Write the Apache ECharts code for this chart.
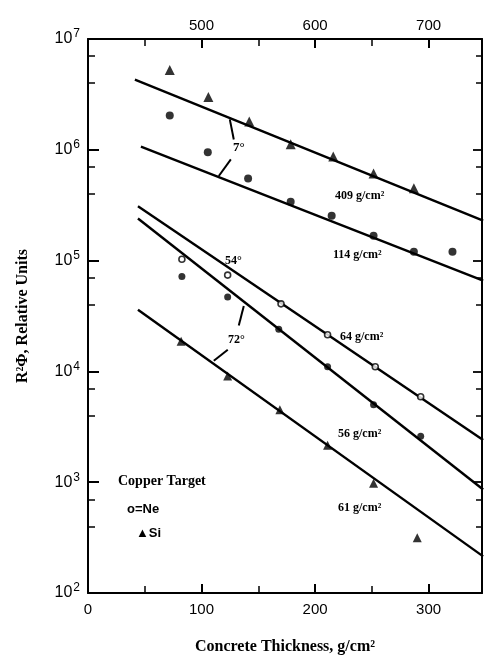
<!DOCTYPE html>
<html><head><meta charset="utf-8">
<script src="https://cdn.jsdelivr.net/npm/echarts@6/dist/echarts.min.js"></script>
<style>html,body{margin:0;padding:0;background:#fff}#c{width:489px;height:660px}</style>
</head><body><div id="c"></div>
<script>
// Measured points [thickness g/cm^2, R^2 Phi]
var si409 = [[72,5.25e6],[106,3.0e6],[142,1.8e6],[178.5,1.12e6],[216,8.7e5],[251.5,6.1e5],[287,4.5e5]];
var ne114 = [[72,2.04e6],[105.5,9.5e5],[141,5.5e5],[178.5,3.4e5],[214.6,2.54e5],[251.5,1.68e5],[287,1.2e5],[321,1.2e5]];
var ne64  = [[82.7,1.03e5],[123,7.4e4],[170,4.07e4],[211,2.14e4],[253,1.1e4],[293,5.9e3]];
var ne56  = [[82.7,7.2e4],[123,4.7e4],[168,2.4e4],[211,1.1e4],[251.5,5.0e3],[293,2.6e3]];
var si61  = [[82,1.87e4],[123,9.1e3],[169,4.5e3],[211,2.16e3],[251.5,980],[290,316]];
// Fitted lines
var fit409 = [[41.3,4.3e6],[348,2.3e5]];
var fit114 = [[46.6,1.07e6],[348,6.6e4]];
var fit64  = [[44,3.1e5],[348,2.4e3]];
var fit56  = [[44,2.4e5],[348,860]];
var fit61  = [[44,3.6e4],[348,214]];
// Angle indicator strokes
var ang7a = [[124.9,1.88e6],[128.4,1.24e6]];
var ang7b = [[115.2,5.8e5],[125.8,8.2e5]];
var ang72a = [[137.2,3.9e4],[132.8,2.6e4]];
var ang72b = [[123.1,1.57e4],[110.8,1.25e4]];
var bottomTicks = [0,100,200,300];
var topTicks = [500,600,700];

var serif = '"Liberation Serif", "DejaVu Serif", serif';
var sans = '"Liberation Sans", "DejaVu Sans", sans-serif';
function line(d, w){ return {type:'line', data:d, showSymbol:false, symbol:'none', lineStyle:{color:'#000', width:w||2.4}, silent:true, z:3}; }
function pts(d, sym, size, open){ return {type:'scatter', data:d, symbol:sym, symbolSize:size,
  itemStyle: open ? {color:'#fff', borderColor:'#000', borderWidth:1.6} : {color:'#000'}, z:4}; }

var chart = echarts.init(document.getElementById('c'));
chart.setOption({
  animation:false,
  grid:{left:88, right:7, top:39, bottom:63},
  xAxis:[{
    type:'value', position:'bottom', min:0, max:347, interval:100,
    axisLine:{lineStyle:{color:'#000', width:2}},
    axisTick:{inside:true, length:9, lineStyle:{color:'#000', width:2}},
    minorTick:{show:true, splitNumber:2, length:7, lineStyle:{color:'#000', width:1.5}},
    splitLine:{show:false},
    axisLabel:{color:'#000', fontFamily:sans, fontSize:15, margin:9, showMaxLabel:false,
      formatter:function(v){ return bottomTicks.indexOf(v)>=0 ? String(v) : ''; }},
    name:'Concrete Thickness, g/cm²', nameLocation:'middle', nameGap:46,
    nameTextStyle:{color:'#000', fontFamily:serif, fontWeight:'bold', fontSize:16}
  },{
    type:'value', position:'top', min:400, max:747, interval:100,
    axisLine:{lineStyle:{color:'#000', width:2}},
    axisTick:{inside:true, length:9, lineStyle:{color:'#000', width:2}},
    minorTick:{show:true, splitNumber:2, length:7, lineStyle:{color:'#000', width:1.5}},
    splitLine:{show:false},
    axisLabel:{color:'#000', fontFamily:sans, fontSize:15, margin:6, showMinLabel:false, showMaxLabel:false,
      formatter:function(v){ return topTicks.indexOf(v)>=0 ? String(v) : ''; }}
  }],
  yAxis:[{
    type:'log', logBase:10, min:100, max:1e7, position:'left',
    axisLine:{show:true, lineStyle:{color:'#000', width:2}},
    axisTick:{inside:true, length:11, lineStyle:{color:'#000', width:2}},
    minorTick:{show:true, splitNumber:3, length:7, lineStyle:{color:'#000', width:1.5}},
    splitLine:{show:false},
    axisLabel:{margin:8, formatter:function(v){ var e=Math.round(Math.log10(v)); return '{b|10}{s|'+e+'}'; },
      rich:{b:{fontFamily:sans, fontSize:16, color:'#000'}, s:{fontFamily:sans, fontSize:12, color:'#000', verticalAlign:'top', padding:[0,0,10,1]}}},
    name:'R²Φ, Relative Units', nameLocation:'middle', nameGap:57, nameRotate:90,
    nameTextStyle:{color:'#000', fontFamily:serif, fontWeight:'bold', fontSize:16}
  },{
    type:'log', logBase:10, min:100, max:1e7, position:'right',
    axisLine:{show:true, lineStyle:{color:'#000', width:2}},
    axisTick:{inside:true, length:9, lineStyle:{color:'#000', width:1.8}},
    minorTick:{show:true, splitNumber:3, length:6, lineStyle:{color:'#000', width:1.5}},
    splitLine:{show:false}, axisLabel:{show:false}
  }],
  graphic:[
    {type:'text', left:335, top:190, style:{text:'409 g/cm²', font:'bold 12px '+serif, fill:'#000'}},
    {type:'text', left:333, top:249, style:{text:'114 g/cm²', font:'bold 12px '+serif, fill:'#000'}},
    {type:'text', left:340, top:331, style:{text:'64 g/cm²', font:'bold 12px '+serif, fill:'#000'}},
    {type:'text', left:338, top:428, style:{text:'56 g/cm²', font:'bold 12px '+serif, fill:'#000'}},
    {type:'text', left:338, top:502, style:{text:'61 g/cm²', font:'bold 12px '+serif, fill:'#000'}},
    {type:'text', left:233, top:141, style:{text:'7°', font:'bold 13px '+serif, fill:'#000'}},
    {type:'text', left:225, top:255, style:{text:'54°', font:'bold 12px '+serif, fill:'#000'}},
    {type:'text', left:228, top:334, style:{text:'72°', font:'bold 12px '+serif, fill:'#000'}},
    {type:'text', left:118, top:474, style:{text:'Copper Target', font:'bold 14px '+serif, fill:'#000'}},
    {type:'text', left:127, top:503, style:{text:'o=Ne', font:'bold 13px '+sans, fill:'#000'}},
    {type:'text', left:136, top:527, style:{text:'▲Si', font:'bold 13px '+sans, fill:'#000'}}
  ],
  series:[
    line(fit409), line(fit114), line(fit64), line(fit56), line(fit61),
    line(ang7a,2), line(ang7b,2), line(ang72a,2), line(ang72b,2),
    pts(si409,'triangle',10,false),
    pts(ne114,'circle',8,false),
    pts(ne64,'circle',6,true),
    pts(ne56,'circle',7,false),
    pts(si61,'triangle',9,false)
  ]
});
</script></body></html>
